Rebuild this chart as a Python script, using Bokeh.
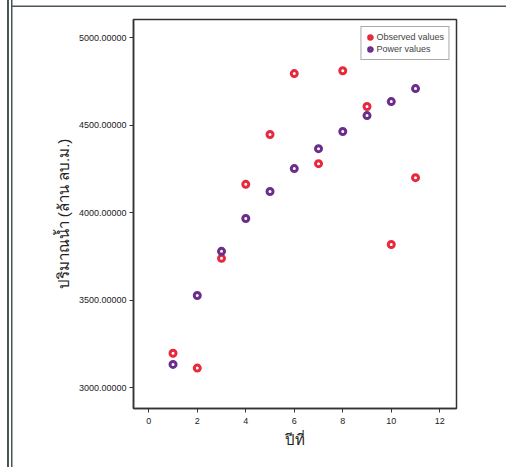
from bokeh.plotting import figure
from bokeh.models import ColumnDataSource, Range1d, PrintfTickFormatter, Legend, LegendItem, FixedTicker
from bokeh.embed import file_html
from bokeh.resources import INLINE

years = [1, 2, 3, 4, 5, 6, 7, 8, 9, 10, 11]
observed = [3196, 3111, 3738, 4161, 4446, 4794, 4279, 4810, 4606, 3817, 4199]
power = [3132, 3526, 3778, 3966, 4120, 4251, 4365, 4463, 4554, 4634, 4708]
x_ticks = [0, 2, 4, 6, 8, 10, 12]
y_ticks = [3000, 3500, 4000, 4500, 5000]

RED = "#e8283c"
PURPLE = "#6b2d8c"
TICK_FONT = "Liberation Sans"
DARK = "#4a5656"

p = figure(width=506, height=467, output_backend="svg", toolbar_location=None,
           x_range=Range1d(-0.63, 12.69), y_range=Range1d(2880, 5103),
           min_border_left=133, min_border_right=50, min_border_top=19, min_border_bottom=59)
p.grid.visible = False
p.outline_line_color = "#333333"
p.outline_line_width = 1.5
p.background_fill_color = "white"
p.border_fill_color = None
p.styles = {"box-shadow": (f"inset 7px 0 0 0 white, inset 9px 0 0 0 {DARK}, "
                           f"inset 11px 0 0 0 white, inset 12.5px 0 0 0 {DARK}, "
                           f"inset 0 5.5px 0 0 white, inset 0 7px 0 0 {DARK}")}

src_o = ColumnDataSource(dict(x=years, y=observed))
src_p = ColumnDataSource(dict(x=years, y=power))
r_o = p.scatter("x", "y", source=src_o, size=6, fill_color="white", line_color=RED, line_width=3)
r_p = p.scatter("x", "y", source=src_p, size=6, fill_color="white", line_color=PURPLE, line_width=3)

for ax in (p.xaxis[0], p.yaxis[0]):
    ax.axis_line_color = "#333333"
    ax.axis_line_width = 1.5
    ax.major_tick_out = 4
    ax.major_tick_in = 0
    ax.minor_tick_out = 0
    ax.minor_tick_in = 0
    ax.major_tick_line_color = "#333333"
    ax.major_label_text_font = TICK_FONT
    ax.major_label_text_font_size = "9px"
    ax.major_label_text_color = "#222222"
    ax.axis_label_text_font_style = "normal"
    ax.axis_label_text_color = "#222222"

p.xaxis.ticker = FixedTicker(ticks=x_ticks)
p.yaxis.ticker = FixedTicker(ticks=y_ticks)
p.yaxis.formatter = PrintfTickFormatter(format="%.5f")
p.xaxis.major_label_standoff = 5
p.yaxis.major_label_standoff = 3
p.xaxis.axis_label = "ปีที่"
p.yaxis.axis_label = "ปริมาณน้ำ (ล้าน ลบ.ม.)"
p.xaxis.axis_label_text_font_size = "15px"
p.yaxis.axis_label_text_font_size = "15px"
p.xaxis.axis_label_standoff = 4
p.yaxis.axis_label_standoff = 4

legend = Legend(items=[LegendItem(label="Observed values", renderers=[r_o]),
                       LegendItem(label="Power values", renderers=[r_p])],
                location="top_right")
legend.margin = 7
legend.padding = 4
legend.spacing = 0
legend.glyph_width = 9
legend.glyph_height = 12
legend.label_height = 12
legend.label_standoff = 2
legend.label_text_font = TICK_FONT
legend.label_text_font_size = "9px"
legend.border_line_color = "#555555"
legend.border_line_width = 1
p.add_layout(legend, "center")

open("out.html", "w").write(file_html(p, INLINE))
